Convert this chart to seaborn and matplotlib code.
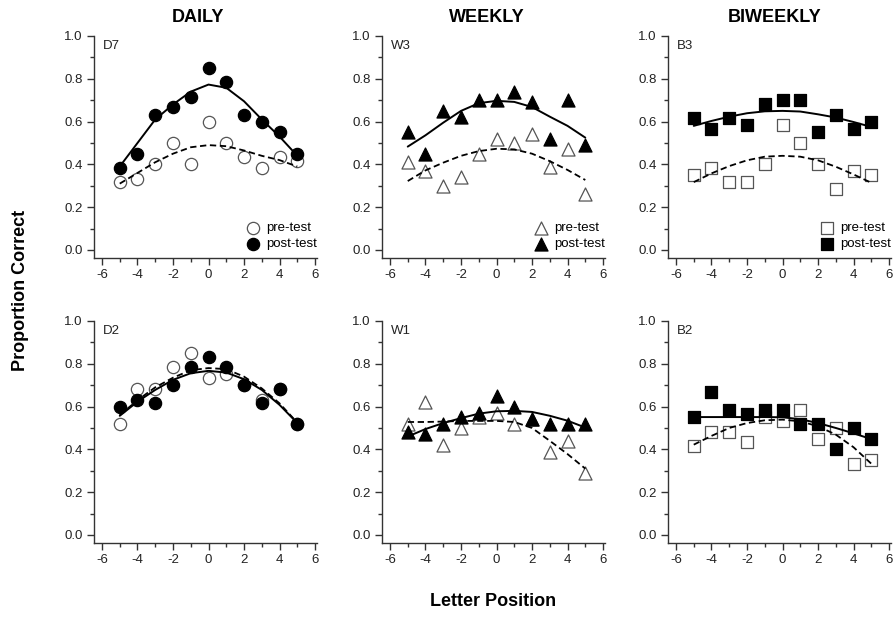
import numpy as np
import pandas as pd
import matplotlib
matplotlib.use("Agg")
import matplotlib.pyplot as plt
from matplotlib.ticker import MultipleLocator, FixedLocator
import seaborn as sns

# ---------------- data ----------------
POS = [-5, -4, -3, -2, -1, 0, 1, 2, 3, 4, 5]

D7_PRE = [0.317, 0.333, 0.40, 0.50, 0.40, 0.60, 0.50, 0.433, 0.383, 0.433, 0.417]
D7_POST = [0.383, 0.45, 0.633, 0.667, 0.717, 0.85, 0.783, 0.633, 0.60, 0.55, 0.45]
D7_PRE_FIT = [0.31, 0.36, 0.41, 0.45, 0.48, 0.49, 0.485, 0.465, 0.44, 0.42, 0.39]
D7_POST_FIT = [0.39, 0.50, 0.61, 0.68, 0.74, 0.773, 0.758, 0.695, 0.61, 0.53, 0.44]

W3_PRE = [0.41, 0.37, 0.30, 0.34, 0.45, 0.52, 0.50, 0.54, 0.39, 0.47, 0.26]
W3_POST = [0.55, 0.45, 0.65, 0.62, 0.70, 0.70, 0.74, 0.69, 0.52, 0.70, 0.49]
W3_PRE_FIT = [0.322, 0.372, 0.408, 0.44, 0.462, 0.473, 0.47, 0.45, 0.415, 0.374, 0.327]
W3_POST_FIT = [0.483, 0.536, 0.595, 0.65, 0.686, 0.697, 0.692, 0.668, 0.623, 0.58, 0.525]

B3_PRE = [0.35, 0.383, 0.317, 0.317, 0.40, 0.583, 0.50, 0.40, 0.283, 0.367, 0.35]
B3_POST = [0.617, 0.567, 0.617, 0.583, 0.683, 0.70, 0.70, 0.55, 0.633, 0.567, 0.60]
B3_PRE_FIT = [0.317, 0.358, 0.392, 0.419, 0.436, 0.44, 0.436, 0.419, 0.389, 0.353, 0.314]
B3_POST_FIT = [0.58, 0.603, 0.623, 0.639, 0.648, 0.65, 0.647, 0.634, 0.619, 0.598, 0.575]

D2_PRE = [0.517, 0.683, 0.683, 0.783, 0.85, 0.733, 0.75, 0.70, 0.633, 0.683, 0.517]
D2_POST = [0.60, 0.633, 0.617, 0.70, 0.783, 0.833, 0.783, 0.70, 0.617, 0.683, 0.517]
D2_PRE_FIT = [0.56, 0.63, 0.69, 0.735, 0.77, 0.78, 0.775, 0.74, 0.685, 0.615, 0.525]
D2_POST_FIT = [0.557, 0.623, 0.678, 0.725, 0.756, 0.767, 0.759, 0.728, 0.678, 0.608, 0.523]

W1_PRE = [0.52, 0.62, 0.42, 0.50, 0.55, 0.57, 0.52, 0.54, 0.39, 0.44, 0.29]
W1_POST = [0.48, 0.47, 0.52, 0.55, 0.57, 0.65, 0.60, 0.54, 0.52, 0.52, 0.52]
W1_PRE_FIT = [0.528, 0.528, 0.53, 0.533, 0.533, 0.533, 0.528, 0.50, 0.44, 0.378, 0.31]
W1_POST_FIT = [0.46, 0.495, 0.523, 0.546, 0.567, 0.578, 0.58, 0.575, 0.557, 0.534, 0.502]

B2_PRE = [0.417, 0.483, 0.483, 0.433, 0.55, 0.533, 0.583, 0.45, 0.50, 0.333, 0.35]
B2_POST = [0.55, 0.667, 0.583, 0.567, 0.583, 0.583, 0.517, 0.517, 0.40, 0.50, 0.45]
B2_PRE_FIT = [0.422, 0.463, 0.50, 0.523, 0.536, 0.539, 0.531, 0.508, 0.469, 0.41, 0.333]
B2_POST_FIT = [0.551, 0.551, 0.551, 0.551, 0.551, 0.55, 0.541, 0.523, 0.50, 0.475, 0.448]

PANEL_LABELS = ["D7", "W3", "B3", "D2", "W1", "B2"]
COLUMN_TITLES = ["DAILY", "WEEKLY", "BIWEEKLY"]
SERIES_LABELS = ["pre-test", "post-test"]
X_TICKS = [-6, -4, -2, 0, 2, 4, 6]
Y_TICKS = [0.0, 0.2, 0.4, 0.6, 0.8, 1.0]
X_LABEL = "Letter Position"
Y_LABEL = "Proportion Correct"

PANELS = [
    (D7_PRE, D7_POST, D7_PRE_FIT, D7_POST_FIT),
    (W3_PRE, W3_POST, W3_PRE_FIT, W3_POST_FIT),
    (B3_PRE, B3_POST, B3_PRE_FIT, B3_POST_FIT),
    (D2_PRE, D2_POST, D2_PRE_FIT, D2_POST_FIT),
    (W1_PRE, W1_POST, W1_PRE_FIT, W1_POST_FIT),
    (B2_PRE, B2_POST, B2_PRE_FIT, B2_POST_FIT),
]
MARKERS = ["o", "^", "s"]
SIZES = {"o": 78, "^": 88, "s": 76}

# ---------------- style ----------------
sns.set_style("ticks")
plt.rcParams["font.family"] = ["Liberation Sans", "DejaVu Sans"]
AX_COL = "#333333"
plt.rcParams.update({
    "axes.edgecolor": AX_COL,
    "xtick.color": AX_COL,
    "ytick.color": AX_COL,
    "xtick.labelcolor": "#222222",
    "ytick.labelcolor": "#222222",
    "text.color": "black",
})

W, H = 895, 617
fig = plt.figure(figsize=(W / 100, H / 100), dpi=100)

col_left = [94, 382, 668]
ax_w = 223
row_top = [36, 321]
ax_h = 222

for i, (pre, post, pre_fit, post_fit) in enumerate(PANELS):
    r, c = divmod(i, 3)
    ax = fig.add_axes([col_left[c] / W, 1 - (row_top[r] + ax_h) / H, ax_w / W, ax_h / H])
    m = MARKERS[c]
    s = SIZES[m]
    sns.scatterplot(x=POS, y=pre, marker=m, s=s, color="white", edgecolor="#555555",
                    linewidth=0.9, ax=ax, label=SERIES_LABELS[0], zorder=3)
    sns.scatterplot(x=POS, y=post, marker=m, s=s, color="black", edgecolor="black",
                    linewidth=0.9, ax=ax, label=SERIES_LABELS[1], zorder=4)
    sns.lineplot(x=POS, y=pre_fit, ax=ax, color="black", lw=1.3, linestyle=(0, (3.5, 2)),
                 zorder=5, legend=False)
    sns.lineplot(x=POS, y=post_fit, ax=ax, color="black", lw=1.4, zorder=5, legend=False)

    ax.set_xlim(-6.45, 6.11)
    ax.set_ylim(-0.0376, 1.0)
    ax.xaxis.set_major_locator(FixedLocator(X_TICKS))
    ax.xaxis.set_minor_locator(MultipleLocator(1))
    ax.yaxis.set_major_locator(FixedLocator(Y_TICKS))
    ax.yaxis.set_minor_locator(MultipleLocator(0.1))
    ax.set_xticklabels([str(t) for t in X_TICKS])
    ax.set_yticklabels(["%.1f" % t for t in Y_TICKS])
    ax.tick_params(which="major", direction="out", length=5, width=1, labelsize=9.5, pad=3)
    ax.tick_params(which="minor", direction="out", length=3, width=1)
    for sp in ["top", "right"]:
        ax.spines[sp].set_visible(False)
    for sp in ["left", "bottom"]:
        ax.spines[sp].set_linewidth(1)
    ax.set_xlabel("")
    ax.set_ylabel("")
    ax.text(0.04, 0.955, PANEL_LABELS[i], transform=ax.transAxes, fontsize=9.5,
            ha="left", va="center", color="#222222")

    if r == 0:
        ax.legend(loc="lower right", bbox_to_anchor=(1.0, 0.035), frameon=False,
                  fontsize=9.5, handletextpad=0.4, labelspacing=0.3, borderpad=0,
                  borderaxespad=0, markerscale=1.0, handlelength=1.2)
    else:
        leg = ax.get_legend()
        if leg is not None:
            leg.remove()

title_x = [198, 487, 775]
for c, t in enumerate(COLUMN_TITLES):
    fig.text(title_x[c] / W, 1 - 17 / H, t, ha="center", va="center",
             fontsize=13, fontweight="bold")

fig.text(493 / W, 1 - 602 / H, X_LABEL, ha="center", va="center",
         fontsize=13, fontweight="bold")
fig.text(21 / W, 1 - 290 / H, Y_LABEL, ha="center", va="center", rotation=90,
         fontsize=13, fontweight="bold")

fig.savefig("out.png", dpi=100)
